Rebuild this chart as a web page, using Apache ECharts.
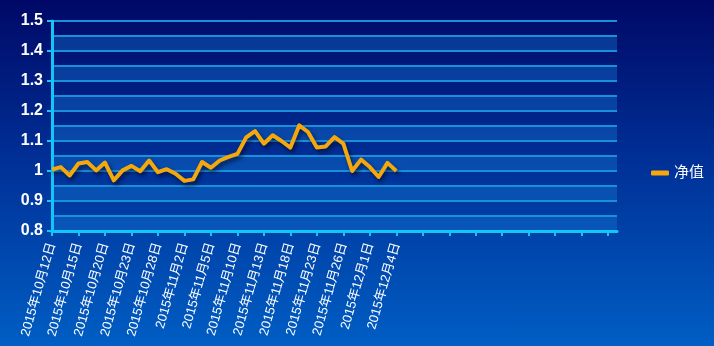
<!DOCTYPE html>
<html>
<head>
<meta charset="utf-8">
<script src="https://cdn.jsdelivr.net/npm/echarts@6/dist/echarts.min.js"></script>
<style>
html,body{margin:0;padding:0;}
body{width:714px;height:346px;background:linear-gradient(to bottom,#000866 0%,#00339a 50%,#005ec4 100%);}
#c{width:714px;height:346px;}
</style>
</head>
<body>
<div id="c"></div>
<script>
var dates = ['2015年10月12日','2015年10月13日','2015年10月14日','2015年10月15日','2015年10月16日',
'2015年10月19日','2015年10月20日','2015年10月21日','2015年10月22日','2015年10月23日',
'2015年10月26日','2015年10月27日','2015年10月28日','2015年10月29日','2015年10月30日',
'2015年11月2日','2015年11月3日','2015年11月4日','2015年11月5日','2015年11月6日',
'2015年11月9日','2015年11月10日','2015年11月11日','2015年11月12日','2015年11月13日',
'2015年11月16日','2015年11月17日','2015年11月18日','2015年11月19日','2015年11月20日',
'2015年11月23日','2015年11月24日','2015年11月25日','2015年11月26日','2015年11月27日',
'2015年11月30日','2015年12月1日','2015年12月2日','2015年12月3日','2015年12月4日'];
var emptySlots = 25;
var netValue = [1.005,1.013,0.985,1.025,1.030,1.002,1.028,0.969,1.002,1.017,
0.999,1.035,0.996,1.006,0.991,0.967,0.972,1.030,1.011,1.035,
1.047,1.057,1.112,1.133,1.091,1.119,1.100,1.078,1.152,1.130,
1.078,1.082,1.113,1.091,1.000,1.038,1.013,0.980,1.027,1.000];
var seriesName = '净值';
var yMin = 0.8, yMax = 1.5, yStep = 0.1, bandStep = 0.05;

var categories = dates.slice();
for (var i = 0; i < emptySlots; i++) categories.push('');

var chart = echarts.init(document.getElementById('c'), null, {renderer:'canvas'});
var axisCyan = '#14c6f6';
var font = 'Arial, "Liberation Sans", "Noto Sans CJK SC", sans-serif';
chart.setOption({
  backgroundColor: 'transparent',
  animation: false,
  grid: {left: 52, right: 97, top: 21, bottom: 115, containLabel: false, outerBoundsMode: 'none'},
  legend: {
    orient: 'vertical', left: 646, top: 'middle',
    icon: 'roundRect', itemWidth: 18, itemHeight: 5,
    textStyle: {color: '#ffffff', fontSize: 15, fontFamily: font},
    data: [seriesName]
  },
  xAxis: {
    type: 'category', boundaryGap: false, data: categories,
    axisLine: {lineStyle: {color: axisCyan, width: 3}},
    axisTick: {interval: 2, length: 5, lineStyle: {color: axisCyan, width: 2}},
    axisLabel: {interval: 2, rotate: 74, color: '#ffffff', fontSize: 13, margin: 12, fontFamily: font},
    splitLine: {show: false}
  },
  yAxis: [{
    type: 'value', min: yMin, max: yMax, interval: yStep,
    axisLine: {show: true, lineStyle: {color: axisCyan, width: 3}},
    axisTick: {show: true, length: 5, lineStyle: {color: axisCyan, width: 2}},
    axisLabel: {color: '#ffffff', fontSize: 16, fontWeight: 'bold', margin: 9, fontFamily: font,
      formatter: function(v){ return (Math.round(v*10)/10).toString(); }},
    splitLine: {show: false}
  }, {
    type: 'value', min: yMin, max: yMax, interval: bandStep, position: 'left',
    axisLine: {show: false}, axisTick: {show: false}, axisLabel: {show: false},
    splitLine: {show: true, lineStyle: {color: '#1a90da', width: 2}},
    splitArea: {show: true, areaStyle: {color: ['rgba(20,120,210,0.38)', 'rgba(0,0,0,0)']}}
  }],
  series: [{
    name: seriesName, type: 'line', data: netValue, yAxisIndex: 0,
    showSymbol: false, symbol: 'none',
    itemStyle: {color: '#f5a80c'},
    lineStyle: {color: '#f5a80c', width: 4, join: 'round',
      shadowColor: 'rgba(0,0,20,0.6)', shadowBlur: 4, shadowOffsetX: 2, shadowOffsetY: 3},
    z: 5
  }]
});
</script>
</body>
</html>
